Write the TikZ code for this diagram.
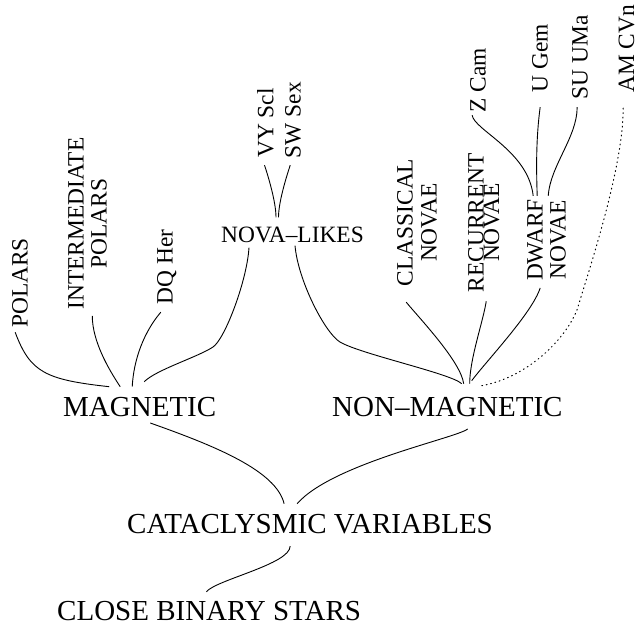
\documentclass[tikz,border=0pt]{standalone}
\usepackage{fontspec}
\setmainfont{Liberation Serif}
\usetikzlibrary{calc}
\begin{document}
\begin{tikzpicture}[x=1pt,y=-1pt,
  big/.style={font=\fontsize{29}{29}\selectfont, inner sep=0pt, anchor=base west},
  small/.style={font=\fontsize{23.4}{23.4}\selectfont, inner sep=0pt},
  vlab/.style={small, rotate=90, anchor=north, align=center},
  conn/.style={line width=0.9pt},
  dotconn/.style={line width=1pt, dash pattern=on 0.9pt off 3.6pt, line cap=round}]
\useasboundingbox (0,0) rectangle (638,629);

% main labels
\node[big] (mag) at (63,416.5) {MAGNETIC};
\node[big] (nm) at (332,416.5) {NON–MAGNETIC};
\node[big] (cv) at (127,533.5) {CATACLYSMIC VARIABLES};
\node[big] (cbs) at (57,620.5) {CLOSE BINARY STARS};
\node[small, anchor=base] (nl) at (292.5,242) {NOVA–LIKES};

% rotated labels
\node[vlab] (pol) at (12,283) {POLARS};
\node[vlab, font=\fontsize{23.4}{23}\selectfont] (ip) at (68,223.5) {INTERMEDIATE\\POLARS};
\node[vlab] (dq) at (157,267) {DQ Her};
\node[vlab] (vy) at (257,123) {VY Scl};
\node[vlab] (sw) at (285,120) {SW Sex};
\node[vlab, font=\fontsize{23.4}{24}\selectfont] (cn) at (397,222.5) {CLASSICAL\\NOVAE};
\node[vlab, font={\fontsize{23.4}{15.5}\selectfont\lineskiplimit=-30pt}] (rn) at (468,222.5) {RECURRENT\\NOVAE};
\node[vlab, font=\fontsize{23.4}{23}\selectfont] (dn) at (527,240) {DWARF\\NOVAE};
\node[vlab] (zc) at (470,80) {Z Cam};
\node[vlab] (ug) at (532,58.5) {U Gem};
\node[vlab] (su) at (572,57.5) {SU UMa};
\node[vlab] (am) at (618.5,49) {AM CVn};

% magnetic branch
\draw[conn] ($(pol.west)+(-4.9,4.2)$) .. controls +(15,40) and +(-64,-7) .. ($(mag.north)+(-30.5,-10.4)$);
\draw[conn] ($(ip.west)+(4.75,6.4)$) .. controls +(0,25) and +(-12,-18) .. ($(mag.north)+(-19.5,-10.4)$);
\draw[conn] ($(dq.west)+(-6,7.6)$) .. controls +(-12,14) and +(2,-35) .. ($(mag.north)+(-7.5,-10.4)$);
\draw[conn] ($(nl.south)+(-43.5,5)$) .. controls +(-2,33) and +(12,-8) .. (213,347) .. controls +(-15,10) and +(12,-12) .. ($(mag.north)+(4.5,-15.4)$);

% nova-likes
\draw[conn] ($(nl.south)+(2.5,3)$) .. controls +(3,35) and +(-15,-9) .. (340,342) .. controls +(20,12) and +(-10,-10) .. ($(nm.north)+(14.3,-13.4)$);
\draw[conn] ($(vy.west)+(-1,7.2)$) .. controls +(4,12) and +(0,-15) .. ($(nl.north)+(-16.5,-9)$);
\draw[conn] ($(sw.west)+(-2.9,7)$) .. controls +(-4,12) and +(0,-15) .. ($(nl.north)+(-14,-9)$);

% non-magnetic branch
\draw[conn] ($(cn.west)+(-10.9,15.8)$) .. controls +(15,18) and +(-3,-22) .. ($(nm.north)+(16.3,-13.4)$);
\draw[conn] ($(rn.west)+(2.35,9)$) .. controls +(-3,20) and +(0,-25) .. ($(nm.north)+(22.3,-13.4)$);
\draw[conn] ($(dn.west)+(-6.4,6.75)$) .. controls +(-8,25) and +(15,-20) .. ($(nm.north)+(24.3,-16.4)$);
\draw[dotconn] ($(am.west)+(-3.4,15.1)$) .. controls +(0,60) and +(12,-40) .. (577,310) .. controls +(-12,30) and +(45,-8) .. ($(nm.north)+(34.3,-11.4)$);

% dwarf novae subtypes
\draw[conn] ($(zc.west)+(-5.9,2.8)$) .. controls +(2,15) and +(-5,-45) .. ($(dn.east)+(-13.4,-3)$);
\draw[conn] ($(ug.west)+(0.1,14.4)$) .. controls +(-4,30) and +(-1,-30) .. ($(dn.east)+(-9.4,-3)$);
\draw[conn] ($(su.west)+(-2.9,7.6)$) .. controls +(0,30) and +(2,-30) .. ($(dn.east)+(1.6,-3)$);

% trunk
\draw[conn] ($(mag.south)+(10.5,6)$) .. controls +(65,23) and +(-8,-33) .. ($(cv.north)+(-25.9,-10.4)$);
\draw[conn] ($(nm.south)+(20.3,12)$) .. controls +(-11,9) and +(35,-40) .. ($(cv.north)+(-12.9,-10.4)$);
\draw[conn] ($(cv.south)+(-19.9,12)$) .. controls +(0,18) and +(10,-12) .. ($(cbs.north)+(-2.7,-9.4)$);
\end{tikzpicture}
\end{document}
